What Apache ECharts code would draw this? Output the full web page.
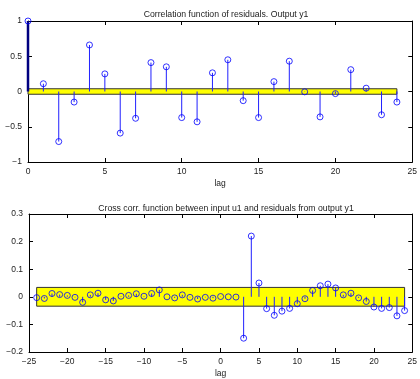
<!DOCTYPE html>
<html>
<head>
<meta charset="utf-8">
<script src="https://cdn.jsdelivr.net/npm/echarts@6/dist/echarts.min.js"></script>
<style>html,body{margin:0;padding:0;background:#fff}#c{width:420px;height:379px}</style>
</head>
<body>
<div id="c"></div>
<script>
// Top: autocorrelation of residuals
const acfLags = [0,1,2,3,4,5,6,7,8,9,10,11,12,13,14,15,16,17,18,19,20,21,22,23,24];
const acfVals = [1,0.11,-0.71,-0.15,0.66,0.25,-0.59,-0.38,0.41,0.35,-0.37,-0.43,0.265,0.45,-0.13,-0.37,0.14,0.43,-0.005,-0.36,-0.03,0.31,0.047,-0.33,-0.15];
const acfBand = 0.039;
// Bottom: cross correlation input u1 / residuals
const ccfLags = [-24,-23,-22,-21,-20,-19,-18,-17,-16,-15,-14,-13,-12,-11,-10,-9,-8,-7,-6,-5,-4,-3,-2,-1,0,1,2,3,4,5,6,7,8,9,10,11,12,13,14,15,16,17,18,19,20,21,22,23,24];
const ccfVals = [-0.003,-0.006,0.012,0.008,0.005,-0.002,-0.02,0.007,0.013,-0.011,-0.015,0.002,0.005,0.011,0.002,0.012,0.025,0,-0.004,0.007,-0.002,-0.008,-0.002,-0.005,0.001,0,-0.001,-0.15,0.22,0.05,-0.043,-0.067,-0.052,-0.042,-0.025,-0.007,0.023,0.04,0.046,0.032,0.007,0.013,-0.004,-0.017,-0.037,-0.042,-0.039,-0.069,-0.05];
const ccfBand = 0.034;
const topXTicks = [0,5,10,15,20,25];
const topYTicks = [-1,-0.5,0,0.5,1];
const botXTicks = [-25,-20,-15,-10,-5,0,5,10,15,20,25];
const botYTicks = [-0.2,-0.1,0,0.1,0.2,0.3];

const FONT = 'Liberation Sans, Arial, sans-serif';
const fmt = v => String(Number(v.toFixed(3))).replace('-', '\u2212');

function axisPair(gi, ticks, isX, withName) {
  const min = ticks[0], max = ticks[ticks.length-1], interval = ticks[1]-ticks[0];
  const common = {
    gridIndex: gi, type: 'value', min, max, interval,
    axisLine: {show: true, onZero: false, lineStyle: {color: '#000', width: 1}},
    axisTick: {show: true, inside: true, length: 4, lineStyle: {color: '#000'}},
    splitLine: {show: false}
  };
  const main = Object.assign({}, common, {
    position: isX ? 'bottom' : 'left',
    axisLabel: {show: true, fontSize: 8.5, color: '#222', fontFamily: FONT, margin: isX ? 5 : 6, formatter: fmt}
  });
  if (withName) {
    main.name = 'lag'; main.nameLocation = 'middle'; main.nameGap = 17;
    main.nameTextStyle = {fontSize: 8.5, color: '#222', fontFamily: FONT};
  }
  const second = Object.assign({}, common, {
    position: isX ? 'top' : 'right',
    axisLabel: {show: false}
  });
  return [main, second];
}

const topX = axisPair(0, topXTicks, true, true);
const topY = axisPair(0, topYTicks, false, false);
const botX = axisPair(1, botXTicks, true, true);
const botY = axisPair(1, botYTicks, false, false);

function stemSeries(xi, yi, lags, vals, thickZero) {
  return {
    type: 'custom', xAxisIndex: xi, yAxisIndex: yi, z: 3,
    data: lags.map((l, i) => [l, vals[i]]),
    encode: {x: 0, y: 1},
    renderItem: (params, api) => {
      const x = api.value(0), y = api.value(1);
      const p0 = api.coord([x, 0]), p1 = api.coord([x, y]);
      const zero = thickZero && x === 0;
      return {type: 'line', shape: {x1: p0[0], y1: p0[1], x2: p1[0], y2: p1[1]},
        style: {stroke: zero ? '#000080' : '#2020ff', lineWidth: zero ? 2.5 : 1, fill: null}};
    }
  };
}
function markerSeries(xi, yi, lags, vals) {
  return {
    type: 'scatter', xAxisIndex: xi, yAxisIndex: yi, z: 4,
    data: lags.map((l, i) => [l, vals[i]]),
    symbol: 'circle', symbolSize: 6,
    itemStyle: {color: 'rgba(0,0,0,0)', borderColor: '#0000ff', borderWidth: 1},
    emphasis: {disabled: true}, silent: true
  };
}
function bandSeries(xi, yi, lags, band) {
  return {
    type: 'line', xAxisIndex: xi, yAxisIndex: yi, z: 1, data: [], silent: true,
    markArea: {
      silent: true,
      itemStyle: {color: '#ffff00', borderColor: '#333', borderWidth: 1},
      data: [[{coord: [lags[0], -band]}, {coord: [lags[lags.length-1], band]}]]
    }
  };
}

const chart = echarts.init(document.getElementById('c'), null, {renderer: 'canvas'});
chart.setOption({
  animation: false,
  backgroundColor: '#fff',
  title: [
    {text: 'Correlation function of residuals. Output y1', left: 221, top: 5, textAlign: 'center',
     textStyle: {fontSize: 8.7, fontWeight: 'normal', color: '#222', fontFamily: FONT}},
    {text: 'Cross corr. function between input u1 and residuals from output y1', left: 221, top: 199, textAlign: 'center',
     textStyle: {fontSize: 8.7, fontWeight: 'normal', color: '#222', fontFamily: FONT}}
  ],
  grid: [
    {left: 28, top: 21, width: 386, height: 141},
    {left: 29, top: 214, width: 385, height: 141}
  ],
  xAxis: [topX[0], topX[1], botX[0], botX[1]],
  yAxis: [topY[0], topY[1], botY[0], botY[1]],
  series: [
    bandSeries(0, 0, acfLags, acfBand),
    stemSeries(0, 0, acfLags, acfVals, true),
    markerSeries(0, 0, acfLags, acfVals),
    bandSeries(2, 2, ccfLags, ccfBand),
    stemSeries(2, 2, ccfLags, ccfVals, false),
    markerSeries(2, 2, ccfLags, ccfVals)
  ]
});
</script>
</body>
</html>
